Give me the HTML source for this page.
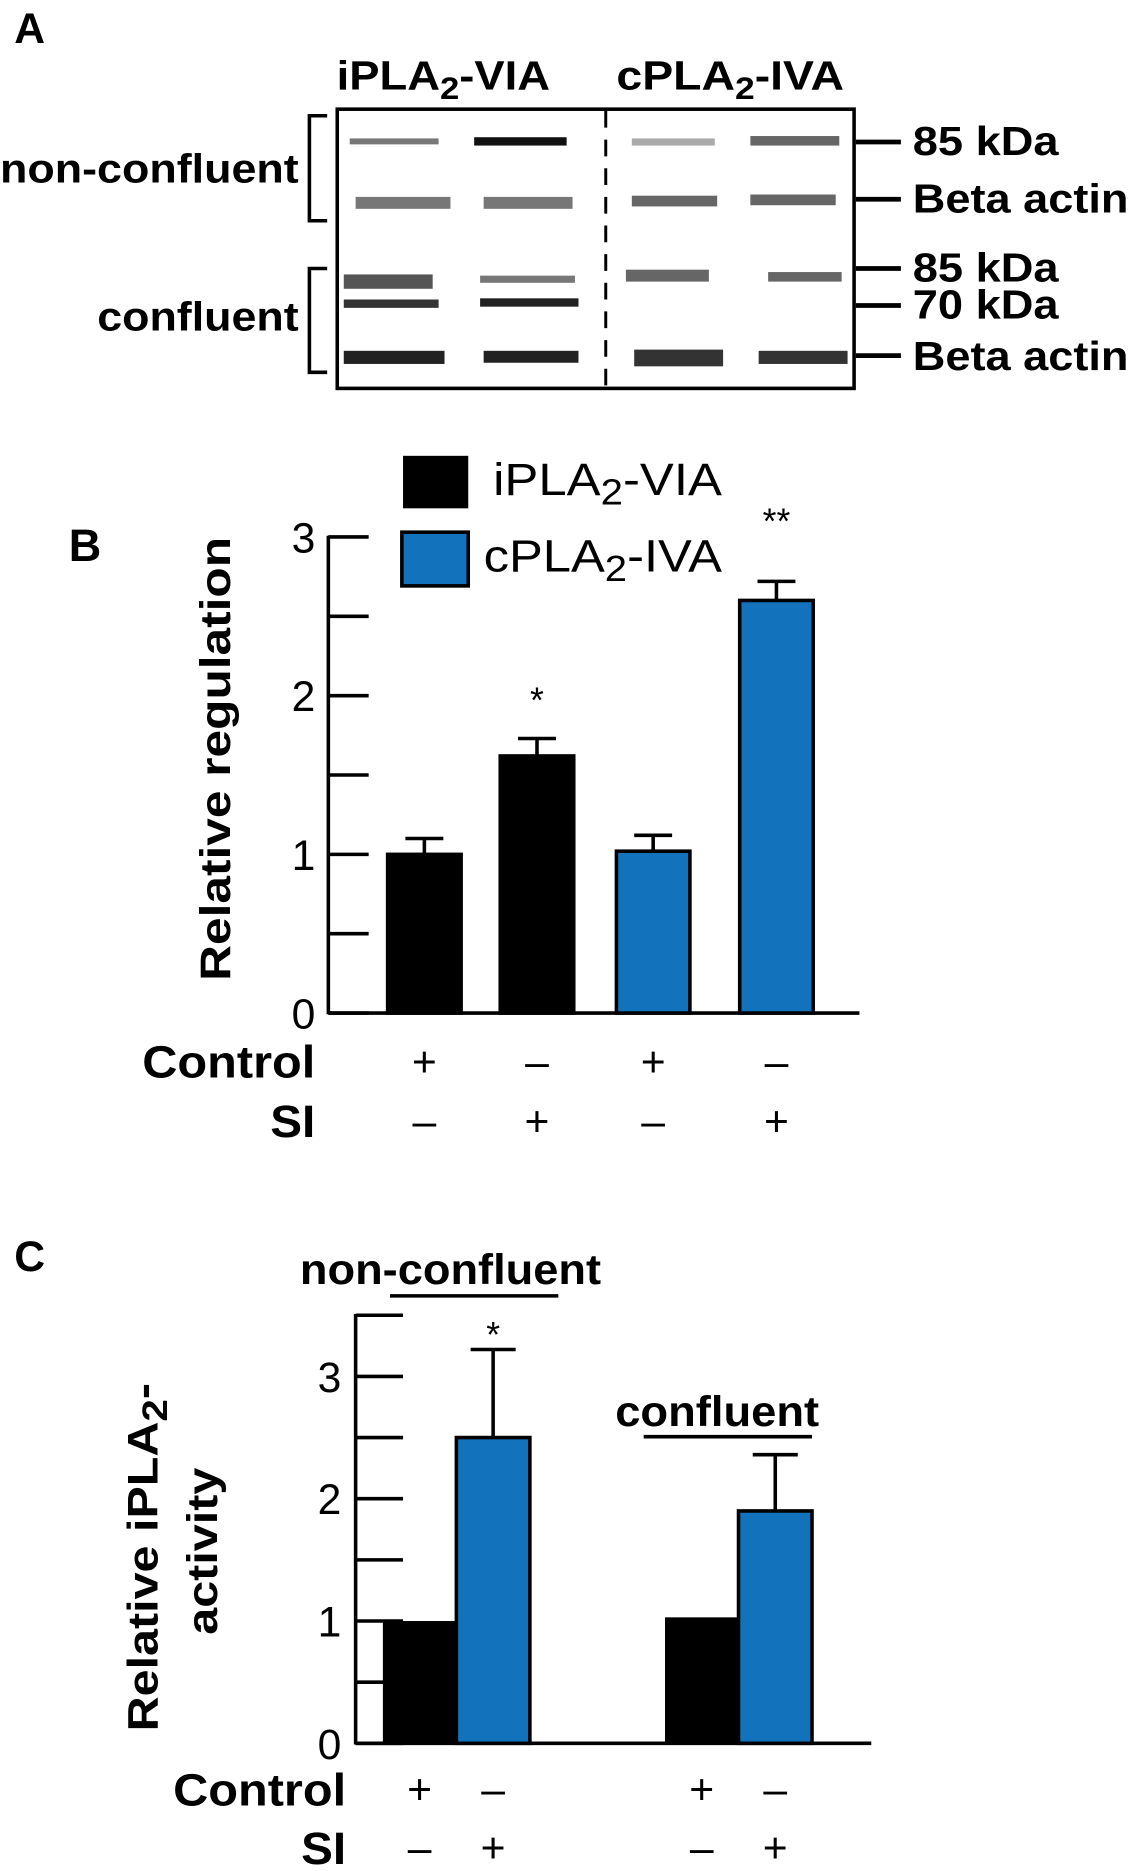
<!DOCTYPE html>
<html><head><meta charset="utf-8"><style>
html,body{margin:0;padding:0;background:#fff}
svg{display:block}
text{font-family:"Liberation Sans",sans-serif;fill:#000}
.b{font-weight:bold}
</style></head><body>
<svg id="fig" width="1138" height="1871" viewBox="0 0 960 1568" preserveAspectRatio="none" xmlns="http://www.w3.org/2000/svg">
<!-- Panel A -->
<g>
<text class="b" x="12" y="36" font-size="36">A</text>
<text class="b" x="284" y="75" font-size="34" textLength="180" lengthAdjust="spacingAndGlyphs">iPLA<tspan font-size="26" dy="8">2</tspan><tspan dy="-8">-VIA</tspan></text>
<text class="b" x="520" y="75" font-size="34" textLength="192" lengthAdjust="spacingAndGlyphs">cPLA<tspan font-size="26" dy="8">2</tspan><tspan dy="-8">-IVA</tspan></text>
<g>
<rect x="295" y="116" width="75" height="5" fill="#777"/>
<rect x="400" y="115" width="78" height="7" fill="#111"/>
<rect x="533" y="116" width="70" height="6" fill="#aaa"/>
<rect x="633" y="114" width="75" height="8" fill="#666"/>
<rect x="300" y="165" width="80" height="10" fill="#777"/>
<rect x="408" y="165" width="75" height="10" fill="#777"/>
<rect x="533" y="164" width="72" height="9" fill="#666"/>
<rect x="633" y="163" width="72" height="9" fill="#666"/>
<rect x="290" y="230" width="75" height="12" fill="#555"/>
<rect x="405" y="231" width="80" height="6" fill="#777"/>
<rect x="528" y="226" width="70" height="10" fill="#666"/>
<rect x="648" y="228" width="62" height="8" fill="#666"/>
<rect x="290" y="251" width="80" height="7" fill="#333"/>
<rect x="405" y="250" width="83" height="7" fill="#222"/>
<rect x="290" y="294" width="85" height="11" fill="#222"/>
<rect x="408" y="294" width="80" height="10" fill="#222"/>
<rect x="535" y="293" width="75" height="14" fill="#333"/>
<rect x="640" y="294" width="75" height="11" fill="#333"/>
</g>
<rect x="284.5" y="91.5" width="436" height="234" fill="none" stroke="#000" stroke-width="3"/>
<line x1="511" y1="93" x2="511" y2="325" stroke="#000" stroke-width="2.5" stroke-dasharray="14,10"/>
<path d="M276 97 H261 V185 H276" fill="none" stroke="#000" stroke-width="3"/>
<path d="M276 225 H261 V312 H276" fill="none" stroke="#000" stroke-width="3"/>
<text class="b" x="252" y="153" font-size="34" text-anchor="end" textLength="252" lengthAdjust="spacingAndGlyphs">non-confluent</text>
<text class="b" x="252" y="277" font-size="34" text-anchor="end" textLength="170" lengthAdjust="spacingAndGlyphs">confluent</text>
<g stroke="#000" stroke-width="4">
<line x1="722" y1="119" x2="760" y2="119"/><line x1="722" y1="167" x2="760" y2="167"/>
<line x1="722" y1="225" x2="760" y2="225"/><line x1="722" y1="256" x2="760" y2="256"/>
<line x1="722" y1="298" x2="760" y2="298"/>
</g>
<g class="b" font-size="34">
<text class="b" x="770" y="130" textLength="123" lengthAdjust="spacingAndGlyphs">85 kDa</text>
<text class="b" x="770" y="178" textLength="182" lengthAdjust="spacingAndGlyphs">Beta actin</text>
<text class="b" x="770" y="236" textLength="123" lengthAdjust="spacingAndGlyphs">85 kDa</text>
<text class="b" x="770" y="267" textLength="123" lengthAdjust="spacingAndGlyphs">70 kDa</text>
<text class="b" x="770" y="310" textLength="182" lengthAdjust="spacingAndGlyphs">Beta actin</text>
</g>
</g>
<g id="panelB"></g>
<g id="panelC"></g>
</svg>
<script>
// Panel B data
const bCategories = ['iPLA2 control', 'iPLA2 SI', 'cPLA2 control', 'cPLA2 SI'];
const bValues = [1.0, 1.62, 1.02, 2.6];
const bErrors = [0.1, 0.11, 0.1, 0.12];
const bSeries = ['iPLA2-VIA', 'iPLA2-VIA', 'cPLA2-IVA', 'cPLA2-IVA'];
const bControl = ['+', '–', '+', '–'];
const bSI = ['–', '+', '–', '+'];
const bSig = ['', '*', '', '**'];
const bTickLabels = ['0', '1', '2', '3'];
// Panel C data
const cCategories = ['non-confluent control', 'non-confluent SI', 'confluent control', 'confluent SI'];
const cValues = [1.0, 2.5, 1.03, 1.9];
const cErrors = [0, 0.72, 0, 0.46];
const cSeries = ['iPLA2-VIA', 'cPLA2-IVA', 'iPLA2-VIA', 'cPLA2-IVA'];
const cControl = ['+', '–', '+', '–'];
const cSI = ['–', '+', '–', '+'];
const cSig = ['', '*', '', ''];
const cTickLabels = ['0', '1', '2', '3'];

const NS = 'http://www.w3.org/2000/svg';
const BLUE = '#1273bc';
function mk(parent, tag, attrs, txt) {
  const e = document.createElementNS(NS, tag);
  for (const k in attrs) e.setAttribute(k, attrs[k]);
  if (txt !== undefined) e.textContent = txt;
  parent.appendChild(e);
  return e;
}
function colorOf(s) { return s === 'iPLA2-VIA' ? '#000' : BLUE; }

// ---- Panel B ----
(function () {
  const g = document.getElementById('panelB');
  const y0 = 849, unit = 133, ax = 277;
  const yS = v => y0 - v * unit;
  const xC = [358, 453, 551, 655], bw = 62;
  let t = mk(g, 'text', {x: 58, y: 470, 'font-size': 38, 'font-weight': 'bold'}, 'B');
  
  
  let r = mk(g, 'rect', {x: 340, y: 382, width: 55, height: 44, fill: '#000'});
  
  
  t = mk(g, 'text', {x: 416, y: 415, 'font-size': 38, textLength: 193, lengthAdjust: 'spacingAndGlyphs'});
  t.innerHTML = 'iPLA<tspan font-size="30" dy="8">2</tspan><tspan dy="-8">-VIA</tspan>';
  
  
  r = mk(g, 'rect', {x: 339, y: 446, width: 56, height: 45, fill: BLUE, stroke: '#000', 'stroke-width': 3});
  
  
  t = mk(g, 'text', {x: 408, y: 479, 'font-size': 38, textLength: 201, lengthAdjust: 'spacingAndGlyphs'});
  t.innerHTML = 'cPLA<tspan font-size="30" dy="8">2</tspan><tspan dy="-8">-IVA</tspan>';
  
  
  let l = mk(g, 'line', {x1: ax, y1: yS(3) - 1, x2: ax, y2: y0 + 1, stroke: '#000', 'stroke-width': 3});
  
  
  l = mk(g, 'line', {x1: ax, y1: y0, x2: 725, y2: y0, stroke: '#000', 'stroke-width': 3});
  
  
  for (let i = 0; i <= 6; i++) {
    const v = i / 2;
    l = mk(g, 'line', {x1: ax, y1: yS(v), x2: 311, y2: yS(v), stroke: '#000', 'stroke-width': 3});
    
    
  }
  bTickLabels.forEach((lab) => {
    const tt = mk(g, 'text', {x: 266, y: yS(+lab) + 13, 'font-size': 36, 'text-anchor': 'end', textLength: 20, lengthAdjust: 'spacingAndGlyphs'}, lab);
    
    
  });
  t = mk(g, 'text', {transform: 'translate(194,636) rotate(-90)', 'font-size': 36, 'font-weight': 'bold', 'text-anchor': 'middle', textLength: 372, lengthAdjust: 'spacingAndGlyphs'}, 'Relative regulation');
  
  
  bValues.forEach((v, i) => {
    const x = xC[i] - bw / 2;
    const e = bErrors[i];
    const el = mk(g, 'path', {d: `M${xC[i]} ${yS(v)} V${yS(v + e)} M${xC[i] - 16} ${yS(v + e)} H${xC[i] + 16}`, stroke: '#000', 'stroke-width': 3, fill: 'none'});
    
    
    const b = mk(g, 'rect', {x: x, y: yS(v), width: bw, height: v * unit, fill: colorOf(bSeries[i]), stroke: '#000', 'stroke-width': 3});
    
    
    if (bSig[i]) {
      const s = mk(g, 'text', {x: xC[i], y: yS(v + e) - 22 - (bSig[i].length > 1 ? 18 : 0), 'font-size': 30, 'text-anchor': 'middle'}, bSig[i]);
      
      
    }
    const c = mk(g, 'text', {x: xC[i], y: 902, 'font-size': 36, 'text-anchor': 'middle'}, bControl[i]);
    
    
    const si = mk(g, 'text', {x: xC[i], y: 952, 'font-size': 36, 'text-anchor': 'middle'}, bSI[i]);
    
    
  });
  t = mk(g, 'text', {x: 266, y: 903, 'font-size': 38, 'font-weight': 'bold', 'text-anchor': 'end', textLength: 146, lengthAdjust: 'spacingAndGlyphs'}, 'Control');
  
  
  t = mk(g, 'text', {x: 266, y: 953, 'font-size': 38, 'font-weight': 'bold', 'text-anchor': 'end', textLength: 38, lengthAdjust: 'spacingAndGlyphs'}, 'SI');
  
  
})();

// ---- Panel C ----
(function () {
  const g = document.getElementById('panelC');
  const y0 = 1461, unit = 102.5, ax = 300;
  const yS = v => y0 - v * unit;
  const xC = [354, 416, 592, 654], bw = 62;
  let t = mk(g, 'text', {x: 12, y: 1065, 'font-size': 36, 'font-weight': 'bold'}, 'C');
  
  
  t = mk(g, 'text', {x: 380, y: 1076, 'font-size': 36, 'font-weight': 'bold', 'text-anchor': 'middle', textLength: 254, lengthAdjust: 'spacingAndGlyphs'}, 'non-confluent');
  
  
  let l = mk(g, 'line', {x1: 329, y1: 1086, x2: 471, y2: 1086, stroke: '#000', 'stroke-width': 3});
  
  
  t = mk(g, 'text', {x: 605, y: 1195, 'font-size': 36, 'font-weight': 'bold', 'text-anchor': 'middle', textLength: 172, lengthAdjust: 'spacingAndGlyphs'}, 'confluent');
  
  
  l = mk(g, 'line', {x1: 543, y1: 1204, x2: 685, y2: 1204, stroke: '#000', 'stroke-width': 3});
  
  
  l = mk(g, 'line', {x1: ax, y1: yS(3.5) - 1, x2: ax, y2: y0 + 1, stroke: '#000', 'stroke-width': 3});
  
  
  l = mk(g, 'line', {x1: ax, y1: y0, x2: 735, y2: y0, stroke: '#000', 'stroke-width': 3});
  
  
  for (let i = 0; i <= 7; i++) {
    const v = i / 2;
    l = mk(g, 'line', {x1: ax, y1: yS(v), x2: 340, y2: yS(v), stroke: '#000', 'stroke-width': 3});
    
    
  }
  cTickLabels.forEach((lab) => {
    const tt = mk(g, 'text', {x: 288, y: yS(+lab) + 13, 'font-size': 36, 'text-anchor': 'end', textLength: 20, lengthAdjust: 'spacingAndGlyphs'}, lab);
    
    
  });
  t = mk(g, 'text', {transform: 'translate(133,1305) rotate(-90)', 'font-size': 36, 'font-weight': 'bold', 'text-anchor': 'middle', textLength: 292, lengthAdjust: 'spacingAndGlyphs'});
  t.innerHTML = 'Relative iPLA<tspan font-size="30" dy="8">2</tspan><tspan dy="-8">-</tspan>';
  
  
  t = mk(g, 'text', {transform: 'translate(183,1300) rotate(-90)', 'font-size': 36, 'font-weight': 'bold', 'text-anchor': 'middle', textLength: 140, lengthAdjust: 'spacingAndGlyphs'}, 'activity');
  
  
  cValues.forEach((v, i) => {
    const x = xC[i] - bw / 2;
    const e = cErrors[i];
    const isBlue = cSeries[i] !== 'iPLA2-VIA';
    if (e > 0) {
      const el = mk(g, 'path', {d: `M${xC[i]} ${yS(v)} V${yS(v + e)} M${xC[i] - 19} ${yS(v + e)} H${xC[i] + 19}`, stroke: '#000', 'stroke-width': 3, fill: 'none'});
      
      
    }
    const b = mk(g, 'rect', {x: x, y: yS(v), width: bw, height: v * unit, fill: colorOf(cSeries[i]), stroke: isBlue ? '#000' : 'none', 'stroke-width': 3});
    
    
    if (cSig[i]) {
      const s = mk(g, 'text', {x: xC[i], y: yS(v + e) - 2, 'font-size': 30, 'text-anchor': 'middle'}, cSig[i]);
      
      
    }
    const c = mk(g, 'text', {x: xC[i], y: 1512, 'font-size': 36, 'text-anchor': 'middle'}, cControl[i]);
    
    
    const si = mk(g, 'text', {x: xC[i], y: 1561, 'font-size': 36, 'text-anchor': 'middle'}, cSI[i]);
    
    
  });
  t = mk(g, 'text', {x: 292, y: 1513, 'font-size': 38, 'font-weight': 'bold', 'text-anchor': 'end', textLength: 146, lengthAdjust: 'spacingAndGlyphs'}, 'Control');
  
  
  t = mk(g, 'text', {x: 292, y: 1562, 'font-size': 38, 'font-weight': 'bold', 'text-anchor': 'end', textLength: 38, lengthAdjust: 'spacingAndGlyphs'}, 'SI');
  
  
})();
</script>
</body></html>
